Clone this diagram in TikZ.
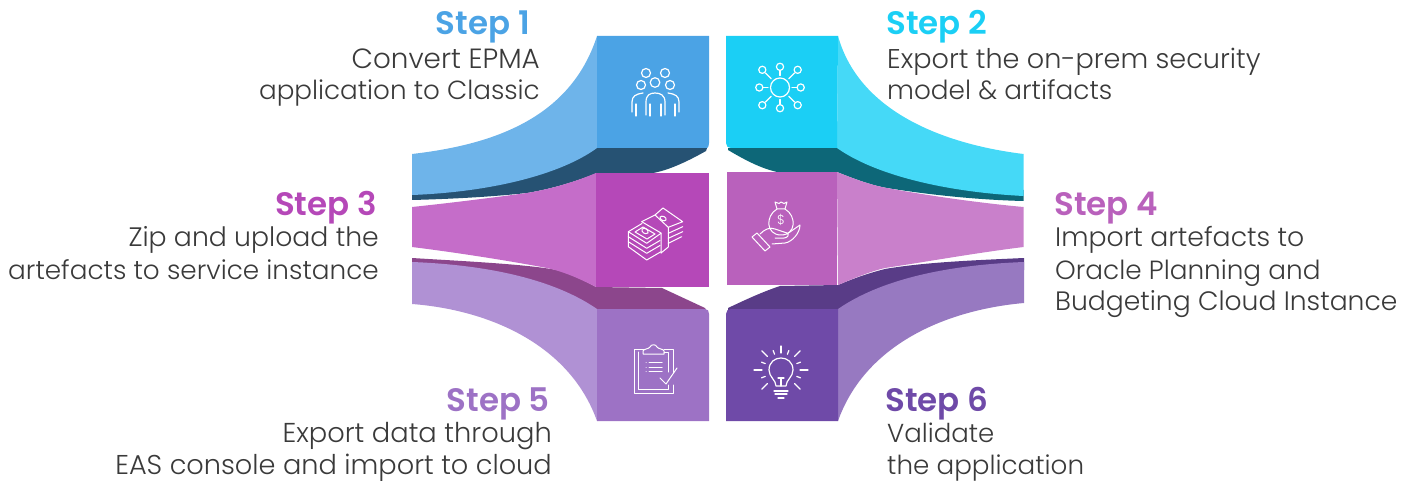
\documentclass[tikz,border=0pt]{standalone}
\usepackage{fontspec}
\setmainfont{Poppins Light}[BoldFont={Poppins SemiBold}]
\definecolor{ca}{HTML}{4BA3E5}\definecolor{cas}{HTML}{6EB4EA}\definecolor{cad}{HTML}{265273}
\definecolor{cb}{HTML}{1BCFF5}\definecolor{cbs}{HTML}{45D9F7}\definecolor{cbd}{HTML}{0D6778}
\definecolor{cc}{HTML}{B548B8}\definecolor{ccs}{HTML}{C56DC9}
\definecolor{cd}{HTML}{B961BC}\definecolor{cds}{HTML}{C980CB}
\definecolor{ce}{HTML}{9D72C5}\definecolor{ces}{HTML}{B091D4}\definecolor{ced}{HTML}{8C468C}
\definecolor{cf}{HTML}{6F4AA8}\definecolor{cfs}{HTML}{9779C1}\definecolor{cfd}{HTML}{593C87}
\definecolor{body}{HTML}{3A3A3A}
\tikzset{
 steplabel/.style={font=\fontsize{32.5}{32}\bfseries\selectfont,inner sep=0pt},
 bodyline/.style={font=\fontsize{#1}{30}\selectfont,text=body,inner sep=0pt},
 icon/.style={draw=white,line width=1.2pt,fill=none,line cap=round,line join=round},
 thinicon/.style={icon,line width=1pt}
}
\begin{document}
\begin{tikzpicture}[x=1pt,y=-1pt]
\useasboundingbox (0,0) rectangle (1413,481);
% dark faces
\fill[cad] (597,148) -- (707,148) -- (706,151) .. controls (690,160) and (670,170) .. (653,173) -- (597,173) .. controls (570,184) and (545,190) .. (527,193) .. controls (490,197) and (450,199) .. (412,200) -- (412,190) -- cycle;
\fill[cbd] (837,148) -- (728,148) -- (728,150) .. controls (745,160) and (760,168) .. (777,172) -- (837,172) .. controls (852,178) and (870,185) .. (887,188) .. controls (930,195) and (980,200) .. (1023.5,201) -- (1023.5,190) -- cycle;
\fill[ced] (412,258) .. controls (460,261) and (525,264) .. (557,270) .. controls (572,274) and (585,281) .. (596,287) -- (662,288) -- (705,308) -- (706,310) -- (597,310) -- (412,270) -- cycle;
\fill[cfd] (1024,258) .. controls (980,260) and (925,262) .. (885,269) .. controls (865,274) and (850,280) .. (838,285) -- (780,286) .. controls (762,292) and (745,300) .. (728,308) -- (728,310) -- (838,310) -- (1024,270) -- cycle;
% side faces
\fill[cas] (597,36) .. controls (570,120) and (490,145) .. (412,154) -- (412,195) .. controls (490,192) and (560,175) .. (597,148) -- cycle;
\fill[cbs] (838,36) .. controls (860,115) and (950,145) .. (1023.5,154) -- (1023.5,196) .. controls (945,192) and (875,175) .. (837,148) -- cycle;
\fill[ccs] (596,173) .. controls (570,184) and (545,190) .. (527,193) .. controls (490,198) and (450,203) .. (412,207) -- (412,247) .. controls (460,253) and (510,261) .. (547,268) .. controls (565,272) and (580,279) .. (596,287) -- cycle;
\fill[cds] (837,172) .. controls (852,178) and (870,185) .. (887,188) .. controls (930,196) and (980,203) .. (1023.5,207) -- (1023.5,247) .. controls (975,253) and (925,262) .. (885,268) .. controls (868,272) and (850,280) .. (838,285) -- cycle;
\fill[ces] (597,309) .. controls (555,280) and (490,265) .. (412,262) -- (412,304) .. controls (490,310) and (570,345) .. (597,421) -- cycle;
\fill[cfs] (838,309) .. controls (880,280) and (945,265) .. (1024,262) -- (1024,303) .. controls (945,310) and (865,345) .. (838,421) -- cycle;
% front faces
\fill[ca] (597,36) -- (709,36) -- (709,143) .. controls (709,146) and (708,148) .. (707,148) -- (597,148) -- cycle;
\fill[cb] (726,36) -- (838,36) -- (837,148) -- (731,148) .. controls (728,148) and (726,146) .. (726,143) -- cycle;
\fill[cc] (596,173) rectangle (709,287);
\fill[cd] (727,172) -- (837,172) -- (837,285) -- (727,285) -- cycle;
\fill[ce] (597,309) -- (705,309) .. controls (708,309) and (709,311) .. (709,314) -- (709,421) -- (597,421) -- cycle;
\fill[cf] (731,309) -- (838,309) -- (838,421) -- (726,421) -- (726,314) .. controls (726,311) and (728,309) .. (731,309) -- cycle;
% icon 1: people
\begin{scope}[icon]
\draw (646,73) circle (4.5) (665,73) circle (4.5) (641,85) circle (4.5) (655,82.5) circle (4.8) (670,85) circle (4.5);
\draw (646,115) -- (646,102) .. controls (646,95) and (650,93) .. (655,93) .. controls (660,93) and (665,95) .. (665,102) -- (665,115);
\draw (650,104) -- (650,116) (661,104) -- (661,116);
\draw (632,112) -- (632,102) .. controls (632,96) and (636,94) .. (643,93);
\draw (679,112) -- (679,102) .. controls (679,96) and (675,94) .. (668,93);
\draw (636,104) -- (636,116) (675,104) -- (675,116);
\end{scope}
% icon 2: hub
\begin{scope}[icon]
\draw (780,87.5) circle (9.5);
\foreach \a in {0,90,180,270}{
 \draw (780,87.5) ++(\a:12) -- ++(\a:5);
 \draw (780,87.5) ++(\a:20.7) circle (3.6);
}
\foreach \a in {45,135,225,315}{
 \draw (780,87.5) ++(\a:12.3) -- ++(\a:8.3);
 \draw (780,87.5) ++(\a:25) circle (3.6);
}
\end{scope}
% icon 3: money
\begin{scope}[thinicon]
\draw (628.3,231.7) -- (642,223.5) (661,233.3) -- (646.7,243.3) -- (628.3,231.7);
\draw (635,232) -- (643,227) -- (655,234) -- (647,239) -- cycle;
\draw (642,229) .. controls (645,227) and (649,230) .. (648,233) .. controls (645,235) and (641,232) .. (642,229) -- cycle;
\draw (628.3,236.7) -- (646.7,248.3) -- (660,240.5);
\draw (628.3,241.7) -- (646.7,253.3) -- (660,245.5);
\draw (628.3,231.7) -- (628.3,246.7) -- (646.7,260) -- (661,251.7);
\draw (641.7,221.7) -- (661,233) -- (661,253);
\draw (641.7,221.7) -- (655,215) -- (668.3,227.3) -- (668.3,247) -- (661,253);
\draw (655,215) -- (663,208) -- (682.7,221.7) -- (668.3,227.3);
\draw (660,217) .. controls (662,215) and (667,217) .. (666,220) .. controls (664,222) and (660,220) .. (660,217) -- cycle;
\draw (668.3,233.3) -- (682.7,226.7) (668.3,238.3) -- (682.7,231.7) (668.3,243.3) -- (681.7,236.7);
\end{scope}
% icon 4: money bag and hand
\begin{scope}[thinicon]
\draw (777,209) .. controls (765,216) and (766,235) .. (781,235) .. controls (796,235) and (797,216) .. (785,209) -- cycle;
\draw (777,209) -- (775,202) -- (779,203.5) -- (781,202) -- (784,203.5) -- (787,202) -- (785,209);
\node[name=dollar,draw=none,text=white,font=\fontsize{13}{13}\selectfont,inner sep=0pt] at (781,220) {\$};
\draw (752,237) -- (757,233) -- (770,247) -- (765,251) -- cycle;
\draw (760,234) .. controls (765,229) and (770,227) .. (775,229) -- (787,233) .. controls (790,235) and (787,238) .. (784,238) -- (775,238);
\draw (787,234) -- (800,225) .. controls (800,233) and (792,242) .. (785,243) -- (772,244);
\end{scope}
% icon 5: clipboard
\begin{scope}[thinicon]
\draw (644,349) -- (634,349) -- (634,393) -- (673,393) -- (673,385);
\draw (673,373) -- (673,349) -- (664,349);
\draw (638,352) -- (638,389) -- (668,389) -- (668,385);
\draw (668,372) -- (668,352) -- (664,352);
\draw (643,354) -- (643,351) .. controls (643,349) and (649,349) .. (650,347) .. controls (651,344) and (656,344) .. (657,347) .. controls (658,349) and (664,349) .. (664,351) -- (664,354) -- cycle;
\draw (649,362) -- (662,362) (649,367) -- (662,367) (649,371.5) -- (662,371.5);
\draw (646,362) -- (646.2,362) (646,367) -- (646.2,367) (646,371.5) -- (646.2,371.5);
\draw (660,378) -- (666,384) -- (677,368);
\end{scope}
% icon 6: bulb
\begin{scope}[icon]
\draw (776,386) .. controls (776,380) and (769,377) .. (769,370) .. controls (769,354) and (793,354) .. (793,370) .. controls (793,377) and (786,380) .. (786,386) -- cycle;
\draw (781,386) -- (781,378) (778,378) -- (784,378);
\draw (774,391) -- (788,391) (775,394) -- (787,394) (778,398) -- (784,398);
\draw (781,370) ++(0:19) -- ++(0:8);
\draw (781,370) ++(180:19) -- ++(180:8);
\draw (781,370) ++(-90:17) -- ++(-90:7);
\foreach \a in {45,135,225,315}{\draw (781,370) ++(\a:19) -- ++(\a:8);}
\foreach \a in {22,68,112,158,202,338}{\draw (781,370) ++(-\a:17) -- ++(-\a:4);}
\end{scope}
% labels
\node[steplabel,text=ca,anchor=base east] (s1) at (530,35) {Step 1};
\node[bodyline=27.8,anchor=base east] (s1a) at (540,69) {Convert EPMA};
\node[bodyline=26.2,anchor=base east] (s1b) at (540,100) {application to Classic};
\node[steplabel,text=cb,anchor=base west] (s2) at (886,35) {Step 2};
\node[bodyline=27.1,anchor=base west] (s2a) at (887,69) {Export the on-prem security};
\node[bodyline=26.3,anchor=base west] (s2b) at (887,100) {model \& artifacts};
\node[steplabel,text=cc,anchor=base east] (s3) at (377,215) {Step 3};
\node[bodyline=26.7,anchor=base east] (s3a) at (379,247) {Zip and upload the};
\node[bodyline=26.3,anchor=base east] (s3b) at (379,279) {artefacts to service instance};
\node[steplabel,text=cd,anchor=base west] (s4) at (1054,215) {Step 4};
\node[bodyline=26.7,anchor=base west] (s4a) at (1055,247) {Import artefacts to};
\node[bodyline=26.3,anchor=base west] (s4b) at (1055,279) {Oracle Planning and};
\node[bodyline=26.6,anchor=base west] (s4c) at (1055,310) {Budgeting Cloud Instance};
\node[steplabel,text=ce,anchor=base east] (s5) at (550,411) {Step 5};
\node[bodyline=27.3,anchor=base east] (s5a) at (552,442) {Export data through};
\node[bodyline=27.2,anchor=base east] (s5b) at (552,474) {EAS console and import to cloud};
\node[steplabel,text=cf,anchor=base west] (s6) at (885,411) {Step 6};
\node[bodyline=26,anchor=base west] (s6a) at (887,442) {Validate};
\node[bodyline=26.2,anchor=base west] (s6b) at (887,474) {the application};
\end{tikzpicture}
\end{document}
